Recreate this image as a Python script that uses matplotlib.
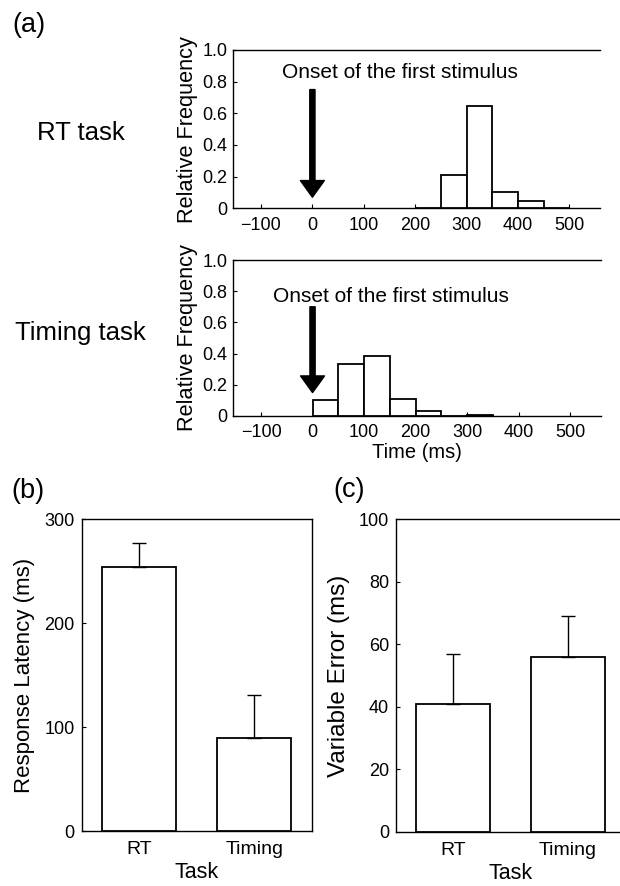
import matplotlib
matplotlib.use("Agg")
import matplotlib.pyplot as plt

plt.rcParams['font.family'] = ['Liberation Sans', 'DejaVu Sans']

# ---------------- data ----------------
bin_width = 50
rt_bin_left = [200, 250, 300, 350, 400, 450]
rt_freq = [0.0, 0.21, 0.645, 0.105, 0.045, 0.0]
timing_bin_left = [0, 50, 100, 150, 200, 250, 300]
timing_freq = [0.103, 0.333, 0.386, 0.107, 0.032, 0.0, 0.005]
hist_xticks = [-100, 0, 100, 200, 300, 400, 500]
hist_yticks = [0, 0.2, 0.4, 0.6, 0.8, 1.0]
hist_yticklabels = ['0', '0.2', '0.4', '0.6', '0.8', '1.0']

tasks = ['RT', 'Timing']
latency_mean = [254, 90]
latency_err = [23, 41]
latency_yticks = [0, 100, 200, 300]
varerr_mean = [41, 56]
varerr_err = [16, 13]
varerr_yticks = [0, 20, 40, 60, 80, 100]

onset_label = 'Onset of the first stimulus'

# ---------------- figure ----------------
W, H = 620, 886
fig = plt.figure(figsize=(W / 100, H / 100), dpi=100)


def px_axes(left, top, right, bottom):
    return fig.add_axes([left / W, 1 - bottom / H, (right - left) / W, (bottom - top) / H])


def style_ticks(ax):
    ax.tick_params(direction='in', length=3, width=0.8, labelsize=13, pad=5)
    for s in ax.spines.values():
        s.set_linewidth(1.0)


def draw_hist(ax, lefts, freqs, arrow_top, arrow_bot, text_y, text_x, xlabel=None):
    ax.bar(lefts, freqs, width=bin_width, align='edge', facecolor='white',
           edgecolor='black', linewidth=1.3, zorder=3)
    ax.set_xlim(-155, 560)
    ax.set_ylim(0, 1.0)
    ax.set_xticks(hist_xticks)
    ax.set_yticks(hist_yticks)
    ax.set_yticklabels(hist_yticklabels)
    ax.spines['right'].set_visible(False)
    style_ticks(ax)
    ax.tick_params(axis='x', pad=6)
    ax.tick_params(axis='y', pad=4)
    ax.set_ylabel('Relative Frequency', fontsize=15.7, labelpad=3)
    ax.annotate('', xy=(0, arrow_bot), xytext=(0, arrow_top),
                arrowprops=dict(arrowstyle='simple,tail_width=0.25,head_width=1.15,head_length=0.8',
                                mutation_scale=15, color='black', shrinkA=0, shrinkB=0))
    ax.text(text_x, text_y, onset_label, fontsize=15, ha='left', va='center')
    if xlabel:
        ax.set_xlabel(xlabel, fontsize=14.5, labelpad=1)


ax1 = px_axes(232.7, 50, 600.3, 208.3)
draw_hist(ax1, rt_bin_left, rt_freq, 0.75, 0.07, 0.857, -59, None)

ax2 = px_axes(232.7, 260, 601, 416)
draw_hist(ax2, timing_bin_left, timing_freq, 0.70, 0.15, 0.765, -76, 'Time (ms)')

fig.text(12 / W, 1 - 25 / H, '(a)', fontsize=19.5, ha='left', va='center')
fig.text(80.5 / W, 1 - 133 / H, 'RT task', fontsize=18.5, ha='center', va='center')
fig.text(80.5 / W, 1 - 333 / H, 'Timing task', fontsize=18.5, ha='center', va='center')


def draw_bars(ax, means, errs, yticks, ylabel, ylabel_size, labelpad):
    x = list(range(len(tasks)))
    ax.bar(x, means, width=0.645, facecolor='white', edgecolor='black', linewidth=1.3, zorder=3)
    ax.errorbar(x, means, yerr=[[0] * len(errs), errs], fmt='none', ecolor='black',
                elinewidth=1.0, capsize=5, capthick=1.0, zorder=4)
    ax.set_xlim(-0.5, 1.5)
    ax.set_ylim(yticks[0], yticks[-1])
    ax.set_xticks(x)
    ax.set_xticklabels(tasks)
    ax.set_yticks(yticks)
    style_ticks(ax)
    ax.tick_params(axis='x', length=0, pad=7, labelsize=14)
    ax.set_ylabel(ylabel, fontsize=ylabel_size, labelpad=labelpad)
    ax.set_xlabel('Task', fontsize=15.5, labelpad=3)


ax3 = px_axes(81.7, 519.3, 311.7, 831.3)
draw_bars(ax3, latency_mean, latency_err, latency_yticks, 'Response Latency (ms)', 16, 7)
fig.text(11 / W, 1 - 491 / H, '(b)', fontsize=19.5, ha='left', va='center')

ax4 = px_axes(396, 519, 625, 831.8)
draw_bars(ax4, varerr_mean, varerr_err, varerr_yticks, 'Variable Error (ms)', 17.5, 6)
ax4.spines['right'].set_visible(False)
fig.text(333 / W, 1 - 490 / H, '(c)', fontsize=19.5, ha='left', va='center')

fig.savefig('out.png', dpi=100)
